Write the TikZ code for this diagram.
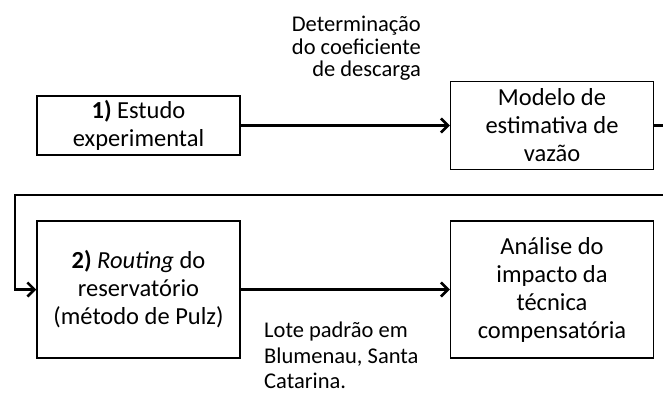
\documentclass[tikz,border=0pt]{standalone}
\usepackage{fontspec}
\setmainfont{Carlito}
\usetikzlibrary{arrows.meta,positioning}

\begin{document}
\begin{tikzpicture}[x=1pt, y=-1pt,
  box/.style={draw, line width=1.5pt, align=center, minimum width=203pt, inner sep=0pt, font=\fontsize{24.5}{28}\selectfont},
  arr/.style={-{Straight Barb[length=7pt, width=14pt]}, line width=2.6pt},
  lbl/.style={font=\fontsize{22.5}{22.5}\selectfont, inner sep=0pt}]
  \clip (0,0) rectangle (663,396);
  \node[box, minimum height=59pt] (estudo) at (138.5,125.5) {\textbf{1)} Estudo\\experimental};
  \node[box, minimum height=88pt, right=209pt of estudo] (modelo) {Modelo de\\estimativa de\\vazão};
  \node[box, minimum height=137pt] (routing) at (138.5,289.5) {\textbf{2)} \textit{Routing} do\\reservatório\\(método de Pulz)};
  \node[box, minimum height=137pt, right=209pt of routing] (analise) {Análise do\\impacto da\\técnica\\compensatória};
  \node[lbl, align=right, anchor=north east] (coef) at (421,16) {Determinação\\do coeficiente\\de descarga};
  \node[lbl, align=left, anchor=north west, font=\fontsize{22.5}{25.5}\selectfont] (lote) at (264,322) {Lote padrão em\\Blumenau, Santa\\Catarina.};
  \coordinate (canto) at (680,195);
  \coordinate (volta) at (15,195);
  \draw[arr] (estudo) -- (modelo);
  \draw[arr] (routing) -- (analise);
  \draw[arr] (modelo.east) -| (canto) -- (volta) |- (routing.west);
\end{tikzpicture}
\end{document}
